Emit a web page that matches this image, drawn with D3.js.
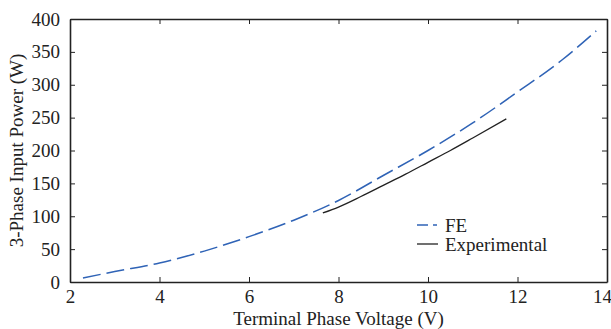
<!DOCTYPE html>
<html>
<head>
<meta charset="utf-8">
<script src="https://cdn.jsdelivr.net/npm/d3@7"></script>
<style>
  body { margin: 0; background: #fff; }
  svg text { font-family: "Liberation Serif", "Times New Roman", "DejaVu Serif", serif !important; }
</style>
</head>
<body>
<svg id="chart"></svg>
<script>
// values
const feVoltage = [2.29, 3, 4, 5, 6, 7, 8, 9, 10, 11, 12, 13, 13.76];
const fePower = [6, 16, 29, 47, 69, 94, 124, 162, 200, 242, 289, 338, 382];
const expVoltage = [7.65, 8, 8.5, 9, 9.5, 10, 10.5, 11, 11.75];
const expPower = [105, 114, 130, 147, 164, 182, 200, 219, 248];
const xTicks = [2, 4, 6, 8, 10, 12, 14];
const yTicks = [0, 50, 100, 150, 200, 250, 300, 350, 400];
const legendLabels = ['FE', 'Experimental'];

(function() {
  const dim = { w: 611, h: 329, l: 70, r: 607, t: 19, b: 282 },
    $svg = d3.select('#chart').attr('width', dim.w).attr('height', dim.h);

  const xScale = d3.scaleLinear().domain([2, 14]).range([dim.l, dim.r]),
    yScale = d3.scaleLinear().domain([0, 400]).range([dim.b, dim.t]);

  const line = d3.line().x((d) => xScale(d[0])).y((d) => yScale(d[1])).curve(d3.curveMonotoneX);
  const feData = feVoltage.map((v, i) => [v, fePower[i]]),
    expData = expVoltage.map((v, i) => [v, expPower[i]]);

  // box frame with inward ticks on all sides
  const tickLen = 5;
  const axes = [
    [d3.axisBottom(xScale).tickValues(xTicks).tickSizeInner(-tickLen).tickPadding(8), 'translate(0,' + dim.b + ')'],
    [d3.axisTop(xScale).tickValues(xTicks).tickSizeInner(-tickLen).tickFormat(''), 'translate(0,' + dim.t + ')'],
    [d3.axisLeft(yScale).tickValues(yTicks).tickSizeInner(-tickLen).tickPadding(10), 'translate(' + dim.l + ',0)'],
    [d3.axisRight(yScale).tickValues(yTicks).tickSizeInner(-tickLen).tickFormat(''), 'translate(' + dim.r + ',0)']
  ];
  axes.forEach((a) => {
    const g = $svg.append('g').attr('transform', a[1]).call(a[0].tickSizeOuter(0));
    g.select('.domain').attr('stroke', '#222').attr('stroke-width', 1.6);
    g.selectAll('.tick line').attr('stroke', '#222').attr('stroke-width', 1);
    g.selectAll('.tick text')
      .attr('font-size', 19)
      .attr('fill', '#222');
  });
  // keep the last x label inside the window
  $svg.selectAll('.tick text').filter((d) => d === 14).attr('dx', -5);

  $svg.append('path')
    .datum(feData)
    .attr('d', line)
    .attr('fill', 'none')
    .attr('stroke', '#2f63b6')
    .attr('stroke-width', 1.5)
    .attr('stroke-dasharray', '18,6');
  $svg.append('path')
    .datum(expData)
    .attr('d', line)
    .attr('fill', 'none')
    .attr('stroke', '#222')
    .attr('stroke-width', 1.3);

  // legend
  const $legend = $svg.append('g').attr('transform', 'translate(417, 225)');
  $legend.append('line')
    .attr('x1', 0).attr('x2', 21).attr('y1', 0).attr('y2', 0)
    .attr('stroke', '#2f63b6').attr('stroke-width', 1.5)
    .attr('stroke-dasharray', '11,5,4');
  $legend.append('line')
    .attr('x1', 0).attr('x2', 21).attr('y1', 19).attr('y2', 19)
    .attr('stroke', '#222').attr('stroke-width', 1.3);
  $legend.selectAll('text')
    .data(legendLabels)
    .enter()
    .append('text')
    .attr('x', 28)
    .attr('y', (d, i) => 7 + 19 * i)
    .attr('font-size', 19)
    .attr('fill', '#222')
    .text((d) => d);

  $svg.append('text')
    .text('Terminal Phase Voltage (V)')
    .attr('text-anchor', 'middle')
    .attr('font-size', 19)
    .attr('fill', '#222')
    .attr('transform', 'translate(' + (dim.l + dim.r) / 2 + ',' + 325 + ')');
  $svg.append('text')
    .text('3-Phase Input Power (W)')
    .attr('text-anchor', 'middle')
    .attr('font-size', 19)
    .attr('fill', '#222')
    .attr('transform', 'translate(23,' + (dim.t + dim.b) / 2 + ') rotate(-90)');
})();
</script>
</body>
</html>
